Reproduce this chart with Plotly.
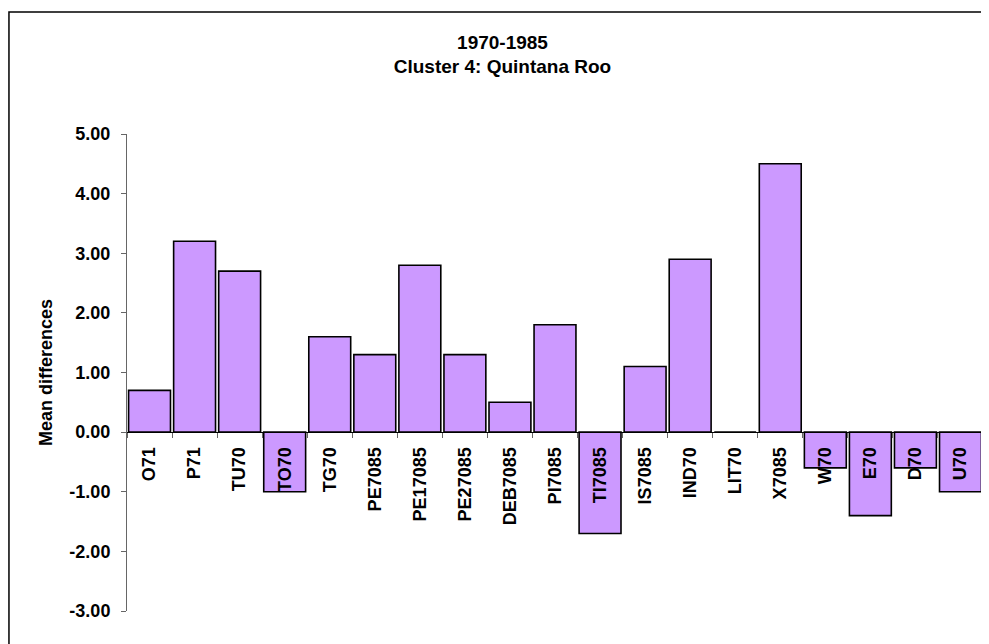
import plotly.graph_objects as go

# Cluster 4: Quintana Roo, 1970-1985 mean differences
categories = ['O71', 'P71', 'TU70', 'TO70', 'TG70', 'PE7085', 'PE17085', 'PE27085',
              'DEB7085', 'PI7085', 'TI7085', 'IS7085', 'IND70', 'LIT70', 'X7085',
              'W70', 'E70', 'D70', 'U70']
mean_diff = [0.7, 3.2, 2.7, -1.0, 1.6, 1.3, 2.8, 1.3,
             0.5, 1.8, -1.7, 1.1, 2.9, 0.0, 4.5,
             -0.6, -1.4, -0.6, -1.0]
y_ticks = [-3, -2, -1, 0, 1, 2, 3, 4, 5]
y_tick_labels = ['-3.00', '-2.00', '-1.00', '0.00', '1.00', '2.00', '3.00', '4.00', '5.00']

FONT = 'Liberation Sans, Arial, sans-serif'

fig = go.Figure()
fig.add_trace(go.Bar(x=categories, y=mean_diff,
                     marker_color='#CC99FF',
                     marker_line_color='black', marker_line_width=1.6,
                     showlegend=False))

fig.update_layout(
    width=989, height=644,
    margin=dict(l=119, r=14, t=126, b=41),
    paper_bgcolor='white', plot_bgcolor='white',
    bargap=0.07,
    font=dict(family=FONT, color='black', size=18),
    title=dict(text='<b>1970-1985<br>Cluster 4: Quintana Roo</b>',
               x=0.5, xref='container', xanchor='center',
               y=0.937, yref='container', yanchor='top',
               font=dict(family=FONT, size=19)),
    xaxis=dict(type='category', anchor='free', position=0.375,
               showline=True, linecolor='black', linewidth=1,
               ticks='outside', ticklen=5, tickcolor='#666', tickson='boundaries',
               ticklabelstandoff=7,
               tickangle=-90, tickfont=dict(family=FONT, size=18, weight='bold'),
               showgrid=False, zeroline=False),
    yaxis=dict(range=[-3, 5], tickvals=y_ticks, ticktext=y_tick_labels,
               showline=True, linecolor='#666', linewidth=1,
               ticks='outside', ticklen=5, tickcolor='#666',
               tickfont=dict(family=FONT, size=18, weight='bold'),
               ticklabelstandoff=7,
               showgrid=False, zeroline=False,
               title=dict(text='<b>Mean differences</b>', standoff=12,
                          font=dict(family=FONT, size=18))),
    shapes=[dict(type='rect', xref='paper', yref='paper',
                 x0=-0.1379, x1=1.2, y0=-0.3, y1=1.2558,
                 line=dict(color='black', width=1.5), layer='below')],
)

fig.write_html('out.html')
